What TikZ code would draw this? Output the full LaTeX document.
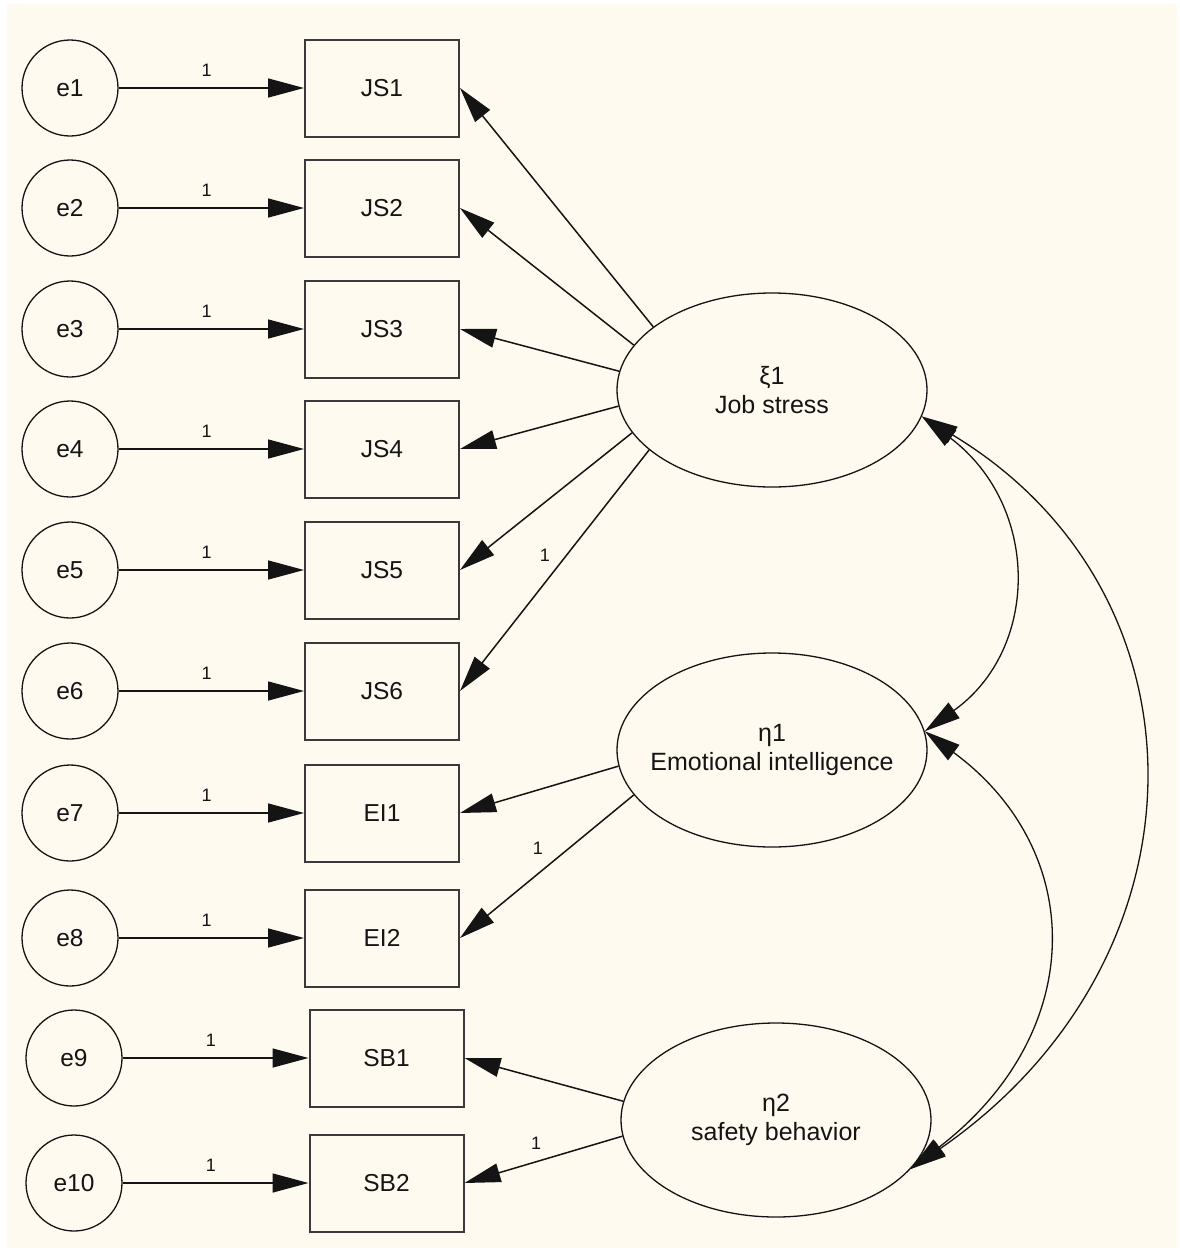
\documentclass[tikz,border=0pt]{standalone}
\usepackage{fontspec}
\setmainfont{Liberation Sans}
\usetikzlibrary{arrows.meta,shapes.geometric}
\definecolor{bgc}{HTML}{FFFAF0}
\definecolor{ink}{HTML}{141414}
\definecolor{boxgray}{HTML}{3A3A3A}
\begin{document}
\begin{tikzpicture}[x=1pt,y=-1pt,
  errc/.style={circle,draw=ink,line width=1.3pt,minimum size=96pt,inner sep=0pt,text=ink,font=\fontsize{24.5}{28}\selectfont},
  obsbox/.style={rectangle,draw=boxgray,line width=2pt,minimum width=154pt,minimum height=97pt,inner sep=0pt,text=ink,font=\fontsize{24.5}{28}\selectfont},
  latent/.style={ellipse,draw=ink,line width=1.3pt,minimum width=310pt,minimum height=194pt,inner xsep=-60pt,inner ysep=-30pt,align=center,text=ink,font=\fontsize{25}{28.5}\selectfont},
  pathar/.style={-{Triangle[length=36pt,width=19pt]},line width=1.5pt,draw=ink},
  covar/.style={{Triangle[length=36pt,width=19pt]}-{Triangle[length=36pt,width=19pt]},line width=1.3pt,draw=ink},
  wlab/.style={font=\fontsize{18}{20}\selectfont,text=ink,inner sep=0pt}
]
\fill[white] (0,0) rectangle (1179,1251);
\fill[bgc] (7,4) rectangle (1177,1248);
\useasboundingbox (0,0) rectangle (1179,1251);

% latent variables
\node[latent] (xi) at (772,390) {ξ1\\Job stress};
\node[latent] (eta1) at (772,750) {η1\\Emotional intelligence};
\node[latent] (eta2) at (776,1120) {η2\\safety behavior};

% error terms and indicators
\foreach \e/\b/\t/\ex/\bx/\y in {e1/JS1/JS1/70/382/88, e2/JS2/JS2/70/382/208, e3/JS3/JS3/70/382/329, e4/JS4/JS4/70/382/449, e5/JS5/JS5/70/382/570, e6/JS6/JS6/70/382/691, e7/EI1/EI1/70/382/813, e8/EI2/EI2/70/382/938, e9/SB1/SB1/74/386.5/1058, e10/SB2/SB2/74/386.5/1183}{
  \node[errc] (\e) at (\ex,\y) {\e};
  \node[obsbox] (\b) at (\bx,\y) {\t};
  \draw[pathar] (\e.east) -- node[wlab,above=11pt,pos=0.475] (l\e) {1} (\b.west);
}

% loadings of xi1
\draw[pathar] (xi.152.7) -- (JS1.east);
\draw[pathar] (xi.162.1) -- (JS2.east);
\draw[pathar] (xi.173.3) -- (JS3.east);
\draw[pathar] (xi.186.3) -- (JS4.east);
\draw[pathar] (xi.197.9) -- (JS5.east);
\draw[pathar] (xi.206.9) -- (JS6.east);
\node[wlab] (lxi) at (545,555) {1};

% loadings of eta1
\draw[pathar] (eta1.186.8) -- (EI1.east);
\draw[pathar] (eta1.198.8) -- (EI2.east);
\node[wlab] (leta1) at (538,848) {1};

% loadings of eta2
\draw[pathar] (eta2.173.7) -- (SB1.east);
\draw[pathar] (eta2.186.7) -- (SB2.east);
\node[wlab] (leta2) at (536,1143) {1};

% covariances
\draw[covar] (xi.-10.6) .. controls +(119,90) and +(115,-82) .. (eta1.7.4);
\draw[covar] (xi.-10.6) .. controls +(294,177) and +(304,-210) .. (eta2.-20.3);
\draw[covar] (eta1.7.4) .. controls +(163,120) and +(177,-136) .. (eta2.-20.3);
\end{tikzpicture}
\end{document}
